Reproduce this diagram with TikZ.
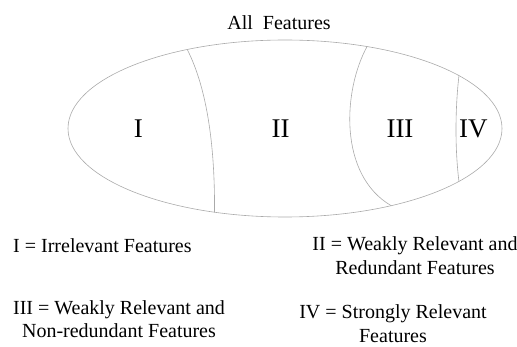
\documentclass[tikz,border=0pt]{standalone}
\usepackage{fontspec}
\setmainfont{Liberation Serif}
\usetikzlibrary{shapes.geometric}
\definecolor{rim}{RGB}{170, 170, 170}
\newcommand*{\fs}{20}

\begin{document}
\begin{tikzpicture}[
   x=1pt, y=-1pt,
   setell/.style={ellipse, draw=rim, line width=0.6, inner sep=0,
                  minimum width=434, minimum height=177},
   part/.style={draw=rim, line width=0.6},
   roman/.style={font=\fontsize{27}{32}\selectfont, anchor=base, inner sep=0},
   legend/.style={font=\fontsize{\fs}{24}\selectfont, align=center,
                  anchor=base, inner sep=0}
  ]

  \useasboundingbox (0, 0) rectangle (517, 347);

  % The set of all features
  \node (all) at (285, 128.5) [setell] {};
  \node (title) at (279, 29.3) [legend] {All\ \ Features};

  % Borders between the parts
  \draw[part] (all.141) .. controls (208, 90) and (215, 150) .. (all.-130);
  \draw[part] (all.45) .. controls (343, 90) and (338, 175) .. (all.-36);
  \draw[part] (all.17) .. controls (455, 110) and (455, 150) .. (all.-17);

  \node (p1) at (138.3, 137.7) [roman] {I};
  \node (p2) at (280.7, 137.7) [roman] {II};
  \node (p3) at (400, 137.7) [roman] {III};
  \node (p4) at (473.3, 137.7) [roman] {IV};

  % Legend (base = last line)
  \node (l1) at (13, 253) [legend, anchor=base west] {I = Irrelevant Features};
  \node (l2) at (415, 275) [legend] {II = Weakly Relevant and\\Redundant Features};
  \node (l3) at (119, 338) [legend] {III = Weakly Relevant and\\Non-redundant Features};
  \node (l4) at (393, 343) [legend] {IV = Strongly Relevant\\Features};

\end{tikzpicture}
\end{document}
